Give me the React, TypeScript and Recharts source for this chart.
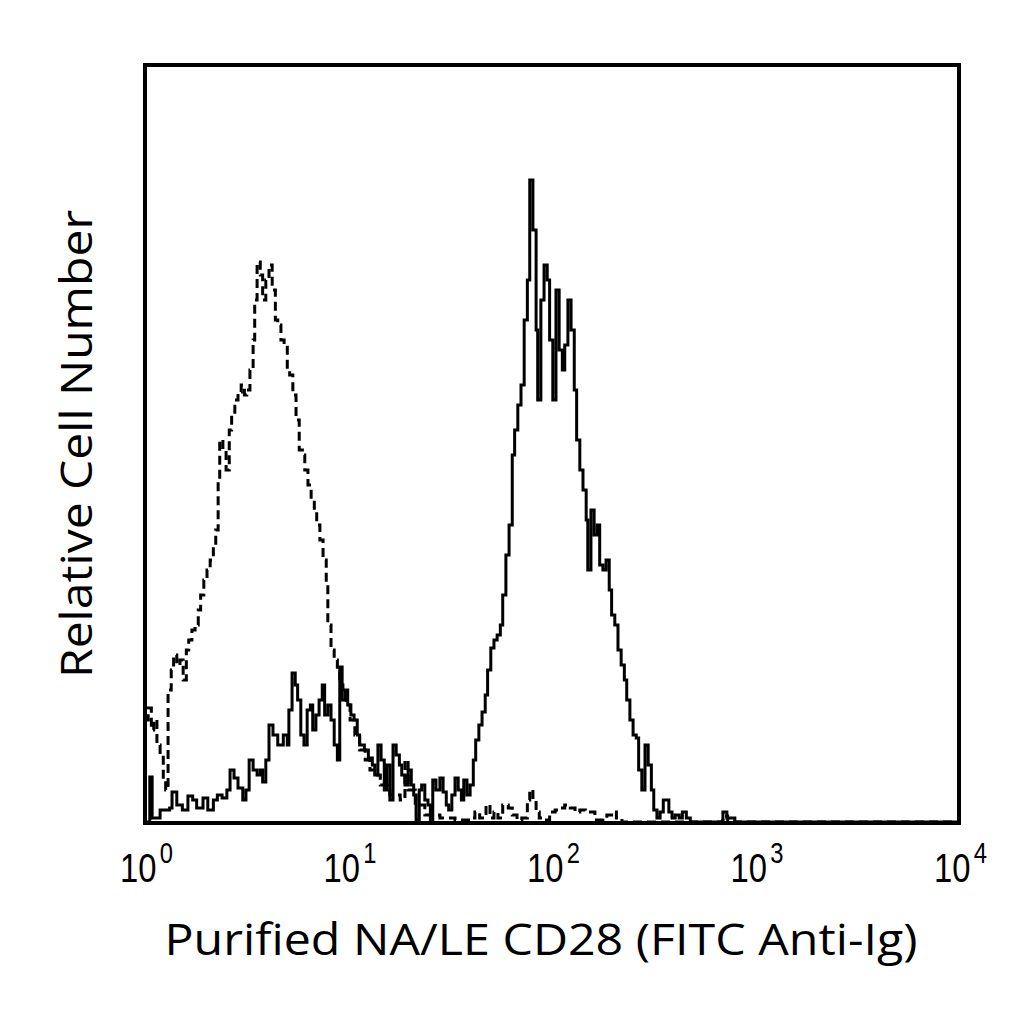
import React from 'react'
import { LineChart, Line, XAxis, YAxis } from 'recharts'

// 1024-channel log scale: 256 channels per decade, 10^0 .. 10^4
const tickChannels = [0, 256, 512, 768, 1024]
const tickExponents = ['0', '1', '2', '3', '4']

// CD28 stained (solid)
const cd28Channels = [
  0, 4, 6, 9, 19, 31, 34, 40, 47, 54, 60, 65, 73, 79, 86, 91, 97, 103, 107, 112,
  117, 123, 127, 131, 136, 141, 145, 148, 152, 156, 161, 167, 174, 179, 181, 185, 189, 192, 196, 200,
  204, 208, 211, 215, 219, 223, 226, 230, 234, 238, 242, 245, 248, 252, 255, 259, 263, 267, 270, 276,
  281, 286, 289, 293, 297, 301, 304, 308, 312, 316, 320, 323, 327, 331, 335, 338, 341, 345, 348, 352,
  356, 359, 362, 366, 371, 375, 379, 382, 386, 390, 394, 398, 401, 405, 409, 413, 416, 420, 424, 428,
  431, 435, 439, 443, 447, 450, 454, 458, 462, 465, 469, 473, 477, 481, 484, 488, 492, 494, 498, 502,
  506, 509, 513, 517, 521, 525, 528, 532, 536, 540, 543, 547, 551, 555, 557, 561, 565, 569, 572, 576,
  580, 584, 587, 591, 595, 599, 603, 606, 610, 614, 618, 621, 625, 629, 633, 637, 640, 644, 648, 652,
  655, 659, 663, 667, 672, 676, 681, 686, 723, 727, 732, 738, 742, 1024,
]
const cd28Counts = [
  1, 1, 46, 5, 13, 15, 31, 18, 13, 27, 23, 15, 25, 13, 23, 28, 25, 33, 53, 45,
  35, 23, 33, 63, 53, 48, 53, 41, 63, 98, 88, 78, 88, 78, 113, 150, 138, 123, 88, 78,
  113, 118, 93, 108, 123, 138, 108, 118, 103, 78, 63, 156, 123, 133, 118, 108, 103, 88, 78, 73,
  65, 58, 48, 78, 63, 33, 58, 23, 78, 68, 58, 48, 38, 53, 38, 28, 3, 33, 38, 23,
  18, 3, 43, 33, 45, 31, 18, 13, 28, 45, 33, 23, 43, 28, 38, 63, 83, 98, 111, 128,
  153, 175, 183, 188, 198, 228, 268, 298, 368, 393, 418, 438, 503, 543, 643, 593, 493, 423, 523, 558,
  543, 483, 423, 533, 473, 453, 478, 523, 493, 433, 383, 353, 333, 303, 253, 313, 288, 298, 258, 253,
  263, 233, 208, 198, 173, 158, 143, 123, 103, 88, 85, 53, 33, 78, 58, 33, 13, 5, 11, 23,
  23, 11, 5, 8, 5, 11, 5, 1, 1, 11, 5, 5, 1, 1,
]

// isotype control (dashed)
const isoChannels = [
  0, 4, 8, 11, 15, 19, 23, 26, 29, 33, 36, 40, 44, 48, 52, 55, 59, 63, 67, 70,
  74, 78, 82, 86, 89, 92, 94, 98, 102, 106, 109, 113, 117, 121, 125, 128, 132, 136, 138, 141,
  145, 148, 152, 156, 160, 164, 167, 171, 175, 179, 182, 186, 190, 194, 198, 201, 205, 209, 213, 216,
  220, 224, 228, 230, 234, 238, 242, 245, 249, 253, 258, 264, 270, 277, 283, 289, 296, 308, 321, 327,
  331, 340, 352, 371, 390, 409, 415, 421, 429, 434, 439, 444, 450, 457, 462, 468, 474, 481, 484, 488,
  492, 496, 503, 509, 516, 522, 528, 535, 541, 547, 554, 560, 566, 576, 581, 587, 593, 600, 698, 727,
  733, 1024,
]
const isoCounts = [
  103, 115, 93, 103, 78, 68, 43, 33, 133, 153, 168, 158, 163, 143, 173, 183, 193, 198, 213, 228,
  243, 253, 263, 278, 293, 343, 383, 373, 353, 393, 408, 423, 431, 438, 428, 433, 453, 483, 523, 561,
  548, 523, 543, 558, 533, 503, 498, 483, 478, 453, 448, 428, 403, 373, 368, 353, 338, 323, 313, 298,
  283, 263, 238, 198, 173, 163, 153, 138, 128, 118, 103, 88, 73, 63, 53, 48, 38, 28, 23, 63,
  33, 18, 8, 5, 3, 5, 11, 5, 18, 5, 11, 5, 18, 15, 8, 3, 5, 23, 33, 23,
  11, 5, 3, 11, 13, 15, 18, 15, 11, 13, 11, 11, 3, 5, 8, 11, 5, 1, 1, 7,
  1, 1,
]

const cd28Data = cd28Channels.map((ch, i) => ({ ch, count: cd28Counts[i] }))
const isoData = isoChannels.map((ch, i) => ({ ch, count: isoCounts[i] }))

const PowerTick = (props: any) => {
  const { x, y, payload } = props
  const exp = tickExponents[tickChannels.indexOf(payload.value)]
  return (
    <text transform={`translate(${x - 25},${y + 51}) scale(0.82,1)`} textAnchor="start"
      fontFamily="'Liberation Sans', Arial, sans-serif" fontSize={40} fill="#000">
      10<tspan dx={4} dy={-19} fontSize={29}>{exp}</tspan>
    </text>
  )
}

export default function App() {
  return (
    <div style={{ position: 'absolute', left: 0, top: 0, width: 1024, height: 1024, background: '#fff' }}>
      <LineChart width={1024} height={1024} margin={{ top: 65, left: 145, right: 65, bottom: 141 }}>
        <XAxis dataKey="ch" type="number" domain={[0, 1024]} ticks={tickChannels} height={60}
          axisLine={false} tickLine={false} tick={<PowerTick />} allowDataOverflow />
        <YAxis type="number" domain={[0, 758]} hide width={0} allowDataOverflow />
        <Line data={isoData} dataKey="count" type="stepAfter" stroke="#000" strokeWidth={3}
          strokeDasharray="9 5" dot={false} isAnimationActive={false} />
        <Line data={cd28Data} dataKey="count" type="stepAfter" stroke="#000" strokeWidth={3}
          dot={false} isAnimationActive={false} />
      </LineChart>
      <svg width={1024} height={1024} style={{ position: 'absolute', left: 0, top: 0, pointerEvents: 'none' }}>
        <rect x={145} y={65} width={814} height={758} fill="none" stroke="#000" strokeWidth={4} />
        <text x={541} y={955} textAnchor="middle" fontFamily="'Open Sans', 'Noto Sans', sans-serif"
          fontSize={44} textLength={753} lengthAdjust="spacingAndGlyphs" fill="#000">
          Purified NA/LE CD28 (FITC Anti-Ig)
        </text>
        <text x={0} y={0} transform="translate(92,444) rotate(-90)" textAnchor="middle"
          fontFamily="'Open Sans', 'Noto Sans', sans-serif" fontSize={44} textLength={468}
          lengthAdjust="spacingAndGlyphs" fill="#000">
          Relative Cell Number
        </text>
      </svg>
    </div>
  )
}
